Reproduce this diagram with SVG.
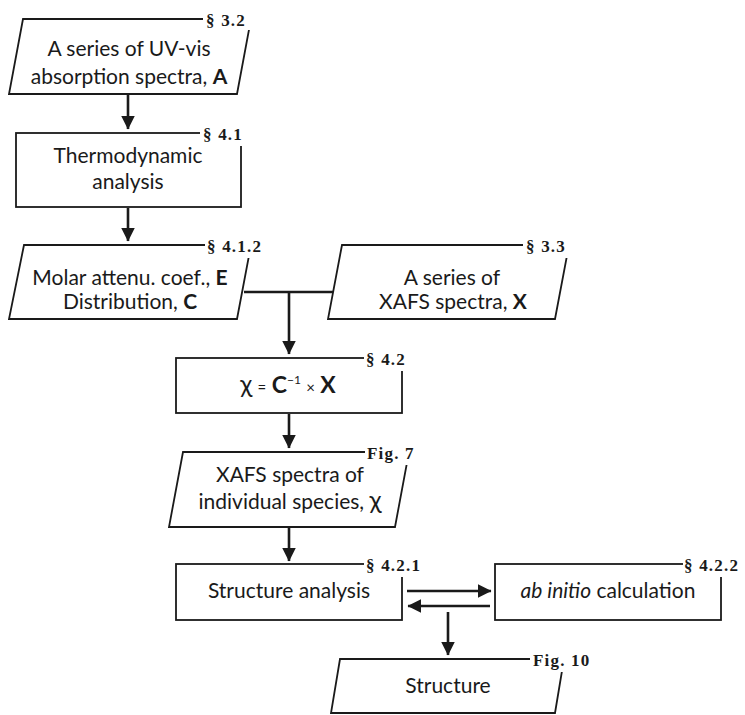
<svg xmlns="http://www.w3.org/2000/svg" width="745" height="715" viewBox="0 0 745 715">
<style>
.shape{fill:#fff;stroke:#1a1a1a;stroke-width:1.8}
.t{font-family:Lato,"Open Sans","Liberation Sans",sans-serif;font-size:21px;fill:#1a1a1a;text-anchor:middle}
.lbl{font-family:"Liberation Serif","DejaVu Serif",serif;font-weight:bold;font-size:17px;letter-spacing:1.2px;fill:#1a1a1a}
.mask{fill:#fff;stroke:none}
.conn{stroke:#1a1a1a;stroke-width:2.6;fill:none}
</style>
<defs>
<marker id="ah" markerWidth="6" markerHeight="6" refX="5" refY="3" orient="auto" markerUnits="strokeWidth">
<path d="M0,0.4 L5.2,3 L0,5.6 Z" fill="#1a1a1a"/>
</marker>
</defs>
<rect width="745" height="715" fill="#fff"/>

<g id="connectors">
<line class="conn" x1="128" y1="95" x2="128" y2="129" marker-end="url(#ah)"/>
<line class="conn" x1="128" y1="208" x2="128" y2="241" marker-end="url(#ah)"/>
<line class="conn" x1="244" y1="292" x2="336" y2="292"/>
<line class="conn" x1="289" y1="292" x2="289" y2="354" marker-end="url(#ah)"/>
<line class="conn" x1="289" y1="414" x2="289" y2="448" marker-end="url(#ah)"/>
<line class="conn" x1="289" y1="528" x2="289" y2="561" marker-end="url(#ah)"/>
<line class="conn" x1="407" y1="591" x2="491" y2="591" marker-end="url(#ah)"/>
<line class="conn" x1="490" y1="606" x2="408" y2="606" marker-end="url(#ah)"/>
<line class="conn" x1="448" y1="612" x2="448" y2="655" marker-end="url(#ah)"/>
</g>

<g id="n1">
<polygon class="shape" points="23,19 251,19 237,94 9,94"/>
<rect class="mask" x="203" y="8" width="52" height="22"/>
<text class="lbl" x="206" y="26">§ 3.2</text>
<text class="t" x="129" y="56">A series of UV-vis</text>
<text class="t" x="129" y="84">absorption spectra, <tspan font-weight="bold">A</tspan></text>
</g>

<g id="n2">
<rect class="shape" x="16" y="133" width="225" height="74"/>
<rect class="mask" x="200" y="122" width="48" height="24"/>
<text class="lbl" x="203" y="140">§ 4.1</text>
<text class="t" x="128" y="163">Thermodynamic</text>
<text class="t" x="128" y="189">analysis</text>
</g>

<g id="n3">
<polygon class="shape" points="24,245 251,245 237,319 9,319"/>
<rect class="mask" x="205" y="234" width="66" height="24"/>
<text class="lbl" x="207" y="252">§ 4.1.2</text>
<text class="t" x="130" y="285">Molar attenu. coef., <tspan font-weight="bold">E</tspan></text>
<text class="t" x="130" y="309">Distribution, <tspan font-weight="bold">C</tspan></text>
</g>

<g id="n4">
<polygon class="shape" points="342,245 569,245 555,319 328,319"/>
<rect class="mask" x="523" y="234" width="54" height="24"/>
<text class="lbl" x="526" y="252">§ 3.3</text>
<text class="t" x="452" y="285">A series of</text>
<text class="t" x="453" y="309">XAFS spectra, <tspan font-weight="bold">X</tspan></text>
</g>

<g id="n5">
<rect class="shape" x="176" y="358" width="226" height="55"/>
<rect class="mask" x="364" y="347" width="50" height="24"/>
<text class="lbl" x="366" y="365">§ 4.2</text>
<text class="t" x="288" y="393"><tspan font-size="25">χ</tspan> <tspan font-size="15">=</tspan> <tspan font-weight="bold" font-size="23">C</tspan><tspan font-size="12" dy="-9">−1</tspan><tspan dy="9"> </tspan><tspan font-size="15">×</tspan> <tspan font-weight="bold" font-size="23">X</tspan></text>
</g>

<g id="n6">
<polygon class="shape" points="183,452 409,452 395,527 169,527"/>
<rect class="mask" x="365" y="441" width="52" height="24"/>
<text class="lbl" x="367" y="459">Fig. 7</text>
<text class="t" x="290" y="482">XAFS spectra of</text>
<text class="t" x="290" y="509">individual species, <tspan font-size="25">χ</tspan></text>
</g>

<g id="n7">
<rect class="shape" x="176" y="564" width="226" height="56"/>
<rect class="mask" x="364" y="553" width="62" height="24"/>
<text class="lbl" x="366" y="571">§ 4.2.1</text>
<text class="t" x="289" y="598">Structure analysis</text>
</g>

<g id="n8">
<rect class="shape" x="495" y="564" width="226" height="56"/>
<rect class="mask" x="683" y="553" width="62" height="24"/>
<text class="lbl" x="684" y="571">§ 4.2.2</text>
<text class="t" x="608" y="598"><tspan font-style="italic">ab initio</tspan> calculation</text>
</g>

<g id="n9">
<polygon class="shape" points="340,659 564,659 555,713 331,713"/>
<rect class="mask" x="530" y="648" width="66" height="24"/>
<text class="lbl" x="533" y="666">Fig. 10</text>
<text class="t" x="448" y="693">Structure</text>
</g>
</svg>
